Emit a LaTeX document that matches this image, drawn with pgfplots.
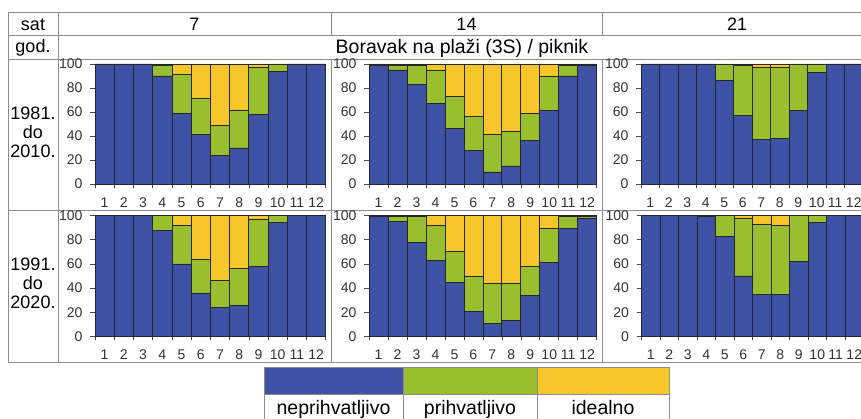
\documentclass[border=0pt]{standalone}
\usepackage{fontspec}
\setmainfont{Liberation Sans}
\usepackage{pgfplots}
\pgfplotsset{compat=1.18}
\definecolor{cb}{RGB}{62,83,166}
\definecolor{cg}{RGB}{154,191,46}
\definecolor{cy}{RGB}{246,198,43}
\definecolor{gl}{RGB}{140,140,140}
\newcommand{\tf}{\fontsize{14}{16}\selectfont}
\pgfplotsset{
  panel/.style={
    scale only axis, ybar stacked, bar width=1,
    xmin=0.5, xmax=12.5, ymin=0, ymax=100,
    enlargelimits=false, clip=false,
    axis x line*=bottom, axis y line*=left,
    axis line style={-, draw=black!70, line width=0.6pt},
    xtick={1,...,12}, minor xtick={0.5,1.5,...,12.5},
    ytick={0,20,...,100},
    xticklabels={\tf 1,\tf 2,\tf 3,\tf 4,\tf 5,\tf 6,\tf 7,\tf 8,\tf 9,\tf 10,\tf 11,\tf 12},
    yticklabels={\tf 0,\tf 20,\tf 40,\tf 60,\tf 80,\tf 100},
    tick align=outside, major tick length=5pt, minor tick length=4pt,
    xtick style={draw=none},
    minor x tick style={draw=black!70, line width=0.6pt},
    ytick style={draw=black!70, line width=0.6pt},
    tick label style={text=black!80},
    yticklabel style={xshift=-4pt},
    xticklabel style={yshift=-5pt},
    every axis plot/.append style={draw=black!85, line width=0.7pt},
  },
  rowA/.style={height=120pt},
  rowB/.style={height=121pt},
}
\begin{document}
\begin{tikzpicture}[x=1pt,y=1pt]
\useasboundingbox (0,0) rectangle (861,419);
\clip (0,0) rectangle (861,419);
\fill[white] (0,0) rectangle (861,419);
% ---------- table lines
\begin{scope}[draw=gl, line width=1pt]
\foreach \yy in {406,383,359,208,56} \draw (8,\yy) -- (861,\yy);
\draw (8,406) -- (8,56);
\draw (58,406) -- (58,56);
\draw (331,406) -- (331,383); \draw (331,359) -- (331,56);
\draw (602,406) -- (602,383); \draw (602,359) -- (602,56);
\end{scope}
% ---------- header text
\begin{scope}[every node/.style={font=\fontsize{18}{20}\selectfont, inner sep=0pt}]
\node at (33,394.5) {sat};
\node at (194.5,394.5) {7};
\node at (466.5,394.5) {14};
\node at (737,394.5) {21};
\node at (33,371) {god.};
\node[font=\fontsize{19.5}{21}\selectfont] at (462,371) {Boravak na plaži (3S) / piknik};
\node[align=center, font=\fontsize{18}{19}\selectfont] at (33,287) {1981.\\do\\2010.};
\node[align=center, font=\fontsize{18}{19}\selectfont] at (33,136) {1991.\\do\\2020.};
\end{scope}
% ---------- panel A : 7 h, 1981-2010
\begin{axis}[panel, rowA, at={(95pt,235pt)}, anchor=south west, width=230.7pt]
\addplot[fill=cb] coordinates {(1,100) (2,100) (3,100) (4,90) (5,59) (6,41) (7,24) (8,30) (9,58) (10,94) (11,100) (12,100)};
\addplot[fill=cg] coordinates {(1,0) (2,0) (3,0) (4,9) (5,32) (6,30) (7,25) (8,31) (9,39) (10,6) (11,0) (12,0)};
\addplot[fill=cy] coordinates {(1,0) (2,0) (3,0) (4,1) (5,9) (6,29) (7,51) (8,39) (9,3) (10,0) (11,0) (12,0)};
\end{axis}
% ---------- panel B : 14 h, 1981-2010
\begin{axis}[panel, rowA, at={(369pt,235pt)}, anchor=south west, width=227.7pt]
\addplot[fill=cb] coordinates {(1,99) (2,95) (3,83) (4,67) (5,46) (6,28) (7,10) (8,15) (9,36) (10,61) (11,90) (12,99)};
\addplot[fill=cg] coordinates {(1,1) (2,4) (3,16) (4,28) (5,27) (6,28) (7,31) (8,29) (9,23) (10,29) (11,9) (12,1)};
\addplot[fill=cy] coordinates {(1,0) (2,1) (3,1) (4,5) (5,27) (6,44) (7,59) (8,56) (9,41) (10,10) (11,1) (12,0)};
\end{axis}
% ---------- panel C : 21 h, 1981-2010
\begin{axis}[panel, rowA, at={(641pt,235pt)}, anchor=south west, width=222pt]
\addplot[fill=cb] coordinates {(1,100) (2,100) (3,100) (4,100) (5,86) (6,57) (7,37) (8,38) (9,61) (10,93) (11,100) (12,100)};
\addplot[fill=cg] coordinates {(1,0) (2,0) (3,0) (4,0) (5,14) (6,42) (7,60) (8,59) (9,39) (10,7) (11,0) (12,0)};
\addplot[fill=cy] coordinates {(1,0) (2,0) (3,0) (4,0) (5,0) (6,1) (7,3) (8,3) (9,0) (10,0) (11,0) (12,0)};
\end{axis}
% ---------- panel D : 7 h, 1991-2020
\begin{axis}[panel, rowB, at={(95pt,82.5pt)}, anchor=south west, width=230.7pt]
\addplot[fill=cb] coordinates {(1,100) (2,100) (3,100) (4,88) (5,60) (6,36) (7,24) (8,26) (9,58) (10,94) (11,100) (12,100)};
\addplot[fill=cg] coordinates {(1,0) (2,0) (3,0) (4,12) (5,32) (6,28) (7,22) (8,30) (9,39) (10,6) (11,0) (12,0)};
\addplot[fill=cy] coordinates {(1,0) (2,0) (3,0) (4,0) (5,8) (6,36) (7,54) (8,44) (9,3) (10,0) (11,0) (12,0)};
\end{axis}
% ---------- panel E : 14 h, 1991-2020
\begin{axis}[panel, rowB, at={(369pt,82.5pt)}, anchor=south west, width=227.7pt]
\addplot[fill=cb] coordinates {(1,99) (2,95) (3,78) (4,63) (5,45) (6,21) (7,11) (8,13) (9,34) (10,61) (11,89) (12,98)};
\addplot[fill=cg] coordinates {(1,1) (2,4) (3,21) (4,29) (5,25) (6,29) (7,33) (8,31) (9,24) (10,28) (11,10) (12,1)};
\addplot[fill=cy] coordinates {(1,0) (2,1) (3,1) (4,8) (5,30) (6,50) (7,56) (8,56) (9,42) (10,11) (11,1) (12,1)};
\end{axis}
% ---------- panel F : 21 h, 1991-2020
\begin{axis}[panel, rowB, at={(641.5pt,82.5pt)}, anchor=south west, width=222pt]
\addplot[fill=cb] coordinates {(1,100) (2,100) (3,100) (4,99) (5,83) (6,50) (7,35) (8,35) (9,62) (10,94) (11,100) (12,100)};
\addplot[fill=cg] coordinates {(1,0) (2,0) (3,0) (4,1) (5,17) (6,48) (7,58) (8,57) (9,38) (10,6) (11,0) (12,0)};
\addplot[fill=cy] coordinates {(1,0) (2,0) (3,0) (4,0) (5,0) (6,2) (7,7) (8,8) (9,0) (10,0) (11,0) (12,0)};
\end{axis}
% ---------- legend
\begin{scope}[draw=gl, line width=1pt]
\filldraw[fill=cb] (264,24) rectangle (403,51);
\filldraw[fill=cg] (403,24) rectangle (537,51);
\filldraw[fill=cy] (537,24) rectangle (669,51);
\draw (264,-2) rectangle (403,24);
\draw (403,-2) rectangle (537,24);
\draw (537,-2) rectangle (669,24);
\end{scope}
\begin{scope}[every node/.style={font=\fontsize{19.5}{21}\selectfont, inner sep=0pt, anchor=base}]
\node at (333.5,4) {neprihvatljivo};
\node at (470,4) {prihvatljivo};
\node at (603,4) {idealno};
\end{scope}
\end{tikzpicture}
\end{document}
